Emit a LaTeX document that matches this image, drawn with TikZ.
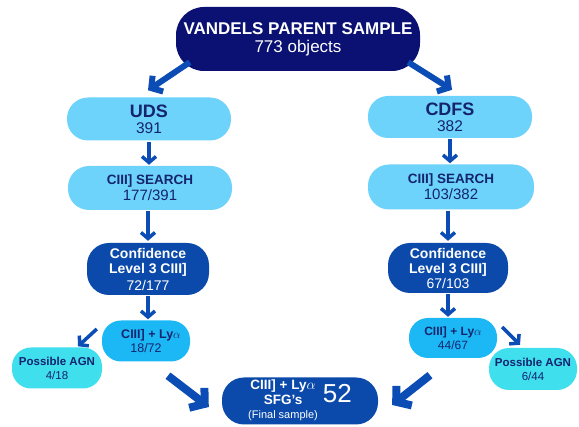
\documentclass[tikz,border=0pt]{standalone}
\usepackage{fontspec}
\setmainfont{Liberation Sans}
\usetikzlibrary{arrows.meta,calc}
\definecolor{topnavy}{HTML}{0A1172}
\definecolor{lightfill}{HTML}{6DD3FA}
\definecolor{darkfill}{HTML}{0B4AAA}
\definecolor{midfill}{HTML}{1CB8F5}
\definecolor{agnfill}{HTML}{40DFEE}
\definecolor{arrowblue}{HTML}{0B4DB5}
\definecolor{txtnavy}{HTML}{14246E}
\begin{document}
\begin{tikzpicture}[x=1pt,y=-1pt,
  pill/.style={draw=none,rectangle,align=center,inner sep=0pt},
  lightpill/.style={pill,fill=lightfill,text=txtnavy},
  darkpill/.style={pill,fill=darkfill,text=white},
  midpill/.style={pill,fill=midfill,text=txtnavy},
  agnpill/.style={pill,fill=agnfill,text=txtnavy},
  varrow/.style={draw=arrowblue,line width=3.5pt,-{Straight Barb[length=6pt,width=14pt]}},
  bigarrow/.style={draw=arrowblue,line width=6pt,-{Straight Barb[length=8pt,width=19pt]}},
  hugearrow/.style={draw=arrowblue,line width=8pt,-{Straight Barb[length=10pt,width=25pt]}},
]
\useasboundingbox (0,0) rectangle (579,427);

\node[pill,fill=topnavy,text=white,minimum width=244pt,minimum height=64pt,rounded corners=28pt,
  font=\fontsize{17}{18}\selectfont] (top) at (298,39)
  {\textbf{VANDELS PARENT SAMPLE}\\{\fontsize{17}{18}\selectfont 773 objects}};

\node[lightpill,minimum width=164pt,minimum height=43pt,rounded corners=21pt,
  font=\fontsize{15.5}{16}\selectfont] (uds) at (149,119)
  {{\fontsize{18}{19}\selectfont\bfseries UDS}\\391};
\node[lightpill,minimum width=164pt,minimum height=42pt,rounded corners=20pt,
  font=\fontsize{15.5}{16}\selectfont] (cdfs) at (450,117)
  {{\fontsize{18}{19}\selectfont\bfseries CDFS}\\382};

\node[lightpill,minimum width=164pt,minimum height=44pt,rounded corners=21pt,
  font=\fontsize{15}{16}\selectfont] (srchL) at (150,188)
  {{\fontsize{13.5}{14}\selectfont\bfseries CIII{]} SEARCH}\\177/391};
\node[lightpill,minimum width=166pt,minimum height=45pt,rounded corners=21pt,
  font=\fontsize{15}{16}\selectfont] (srchR) at (451,187)
  {{\fontsize{13.5}{14}\selectfont\bfseries CIII{]} SEARCH}\\103/382};

\node[darkpill,minimum width=122pt,minimum height=52pt,rounded corners=22pt,
  font=\fontsize{14}{15}\selectfont] (confL) at (148,269)
  {\textbf{Confidence}\\\textbf{Level 3 CIII{]}}\\[2pt]72/177};
\node[darkpill,minimum width=120pt,minimum height=50pt,rounded corners=22pt,
  font=\fontsize{14}{15}\selectfont] (confR) at (448,268)
  {\textbf{Confidence}\\\textbf{Level 3 CIII{]}}\\67/103};

\node[midpill,minimum width=88pt,minimum height=41pt,rounded corners=19pt,
  font=\fontsize{12.5}{14}\selectfont] (lyaL) at (146,341)
  {\hspace*{10pt}\textbf{CIII{]} + Ly$\alpha$}\\18/72};
\node[midpill,minimum width=88pt,minimum height=40pt,rounded corners=19pt,
  font=\fontsize{12}{14}\selectfont] (lyaR) at (453,338)
  {\textbf{CIII{]} + Ly$\alpha$}\\44/67};

\node[agnpill,minimum width=90pt,minimum height=41pt,rounded corners=19pt,
  font=\fontsize{11.5}{14}\selectfont] (agnL) at (57,368)
  {\textbf{Possible AGN}\\4/18};
\node[agnpill,minimum width=88pt,minimum height=42pt,rounded corners=20pt,
  font=\fontsize{11.5}{14}\selectfont] (agnR) at (533,369)
  {\textbf{Possible AGN}\\6/44};

\node[darkpill,minimum width=156pt,minimum height=47pt,rounded corners=22pt,
  font=\fontsize{13.5}{15}\selectfont] (final) at (300,401)
  {\raisebox{-2pt}{\begin{tabular}{@{}c@{}}\textbf{CIII{]} + Ly$\alpha$}\\
   \textbf{SFG's}\\[-1pt]{\fontsize{11}{12}\selectfont (Final sample)}\end{tabular}}\hspace{5pt}{\fontsize{26}{26}\selectfont 52}};

% connectors
\coordinate (tlS) at ($(top.south west)+(14,-9)$);
\coordinate (tlE) at ($(uds.north)+(-1,-7)$);
\coordinate (trS) at ($(top.south east)+(-12,-9)$);
\coordinate (trE) at ($(cdfs.north)+(2,-6)$);
\draw[bigarrow] (tlS) -- (tlE);
\draw[bigarrow] (trS) -- (trE);

\draw[varrow,shorten <=1pt,shorten >=1pt] (uds.south) -- (uds.south |- srchL.north);
\draw[varrow,shorten <=1pt,shorten >=1pt] (cdfs.south) -- (cdfs.south |- srchR.north);
\draw[varrow,shorten <=1pt,shorten >=2pt] (confL.north |- srchL.south) -- (confL.north);
\draw[varrow,shorten <=1pt,shorten >=2pt] (confR.north |- srchR.south) -- (confR.north);
\draw[varrow,shorten <=1pt,shorten >=1pt] (confL.south) -- (confL.south |- lyaL.north);
\draw[varrow,shorten <=1pt,shorten >=1pt] (confR.south) -- (confR.south |- lyaR.north);

\coordinate (slS) at ($(lyaL.west)+(-5,-12)$);
\coordinate (slE) at ($(agnL.north)+(21,-1)$);
\coordinate (srS) at ($(lyaR.east)+(5,-11)$);
\coordinate (srE) at ($(agnR.north)+(-13,-3)$);
\draw[varrow] (slS) -- (slE);
\draw[varrow] (srS) -- (srE);

\coordinate (blS) at ($(lyaL.south)+(22,14)$);
\coordinate (blE) at ($(final.west)+(-13,6)$);
\coordinate (brS) at ($(lyaR.south)+(-23,17)$);
\coordinate (brE) at ($(final.east)+(14,4)$);
\draw[hugearrow] (blS) -- (blE);
\draw[hugearrow] (brS) -- (brE);
\end{tikzpicture}
\end{document}
